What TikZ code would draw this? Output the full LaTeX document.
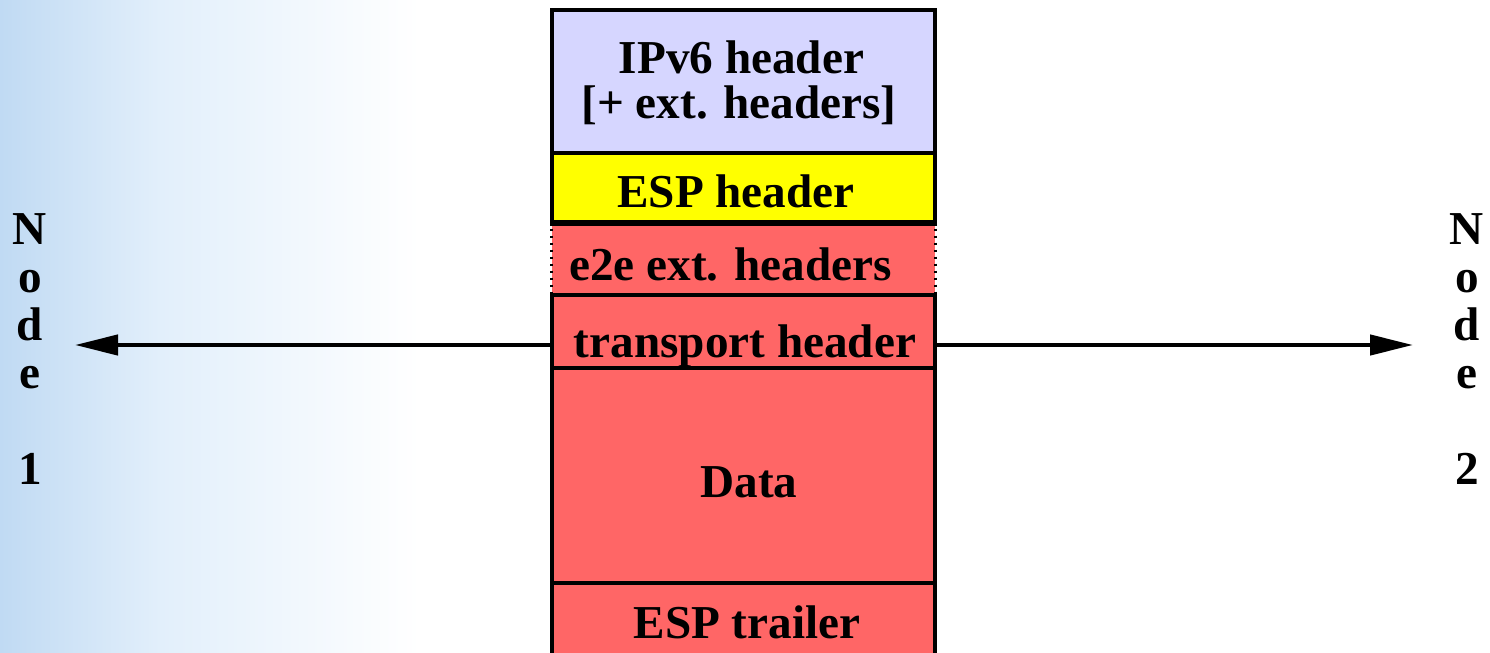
\documentclass[tikz,border=0pt]{standalone}
\usepackage{fontspec}
\setmainfont{Liberation Serif}
\usetikzlibrary{arrows.meta,calc}
\definecolor{lav}{RGB}{214,214,255}
\definecolor{yel}{RGB}{255,255,0}
\definecolor{sal}{RGB}{255,102,102}
\definecolor{bgblue}{RGB}{192,218,243}
\definecolor{bgmid}{RGB}{226,239,251}
\tikzset{
  layer/.style={draw=black, line width=2pt, inner sep=0pt, minimum width=191.5pt},
  lbl/.style={font=\fontsize{23.6}{23}\selectfont\bfseries, inner sep=0pt, anchor=base},
  nodelbl/.style={font=\fontsize{23.6}{24}\selectfont\bfseries, inner sep=0pt, align=center, anchor=north},
  arr/.style={line width=2.2pt, -{Triangle[length=21.5pt,width=10pt]}},
  dotside/.style={line width=1.2pt, dash pattern=on 1.2pt off 2.3pt}
}
\begin{document}
\begin{tikzpicture}[x=0.5pt,y=-0.5pt]
\useasboundingbox (0,0) rectangle (1490,653);
\clip (0,0) rectangle (1490,653);
\fill[white] (0,0) rectangle (1490,653);
\shade[left color=bgblue, right color=bgmid] (0,0) rectangle (160,653);
\shade[left color=bgmid, right color=white] (160,0) rectangle (420,653);
% layers
\node[layer, fill=lav, minimum height=71.5pt] (ipv6) at (743.5,81.5) {};
\node[layer, fill=yel, minimum height=34.5pt] (esph) at (743.5,187.5) {};
\node[inner sep=0pt, fill=sal, minimum width=191.5pt, minimum height=36.5pt] (e2e) at (743.5,258.5) {};
\draw[dotside] (e2e.north west) -- (e2e.south west);
\draw[dotside] (e2e.north east) -- (e2e.south east);
\node[layer, fill=sal, minimum height=36.5pt] (trans) at (743.5,331.5) {};
\node[layer, fill=sal, minimum height=107.5pt] (data) at (743.5,475.5) {};
\node[layer, fill=sal, minimum height=38.5pt] (trail) at (743.5,621.5) {};
\draw[line width=2pt] (esph.south west) -- (esph.south east);
% labels
\node[lbl] (t1) at (741.5,73) {IPv6 header};
\node[lbl] (t2) at (739,118) {[+ ext. headers]};
\node[lbl] (t3) at (736,207) {ESP header};
\node[lbl, anchor=base west] (t4) at (569,280) {e2e ext. headers};
\node[lbl] (t5) at (745,357) {transport header};
\node[lbl] (t6) at (749,497) {Data};
\node[lbl] (t7) at (747,638) {ESP trailer};
% end nodes
\node[nodelbl] (n1) at (30,213) {N\\o\\d\\e\\[24pt]1};
\node[nodelbl] (n2) at (1467,213) {N\\o\\d\\e\\[24pt]2};
\coordinate (tipL) at (75,345);
\coordinate (tipR) at (1413,345);
\draw[arr] (trans.west |- tipL) -- (tipL);
\draw[arr] (trans.east |- tipR) -- (tipR);
\end{tikzpicture}
\end{document}
